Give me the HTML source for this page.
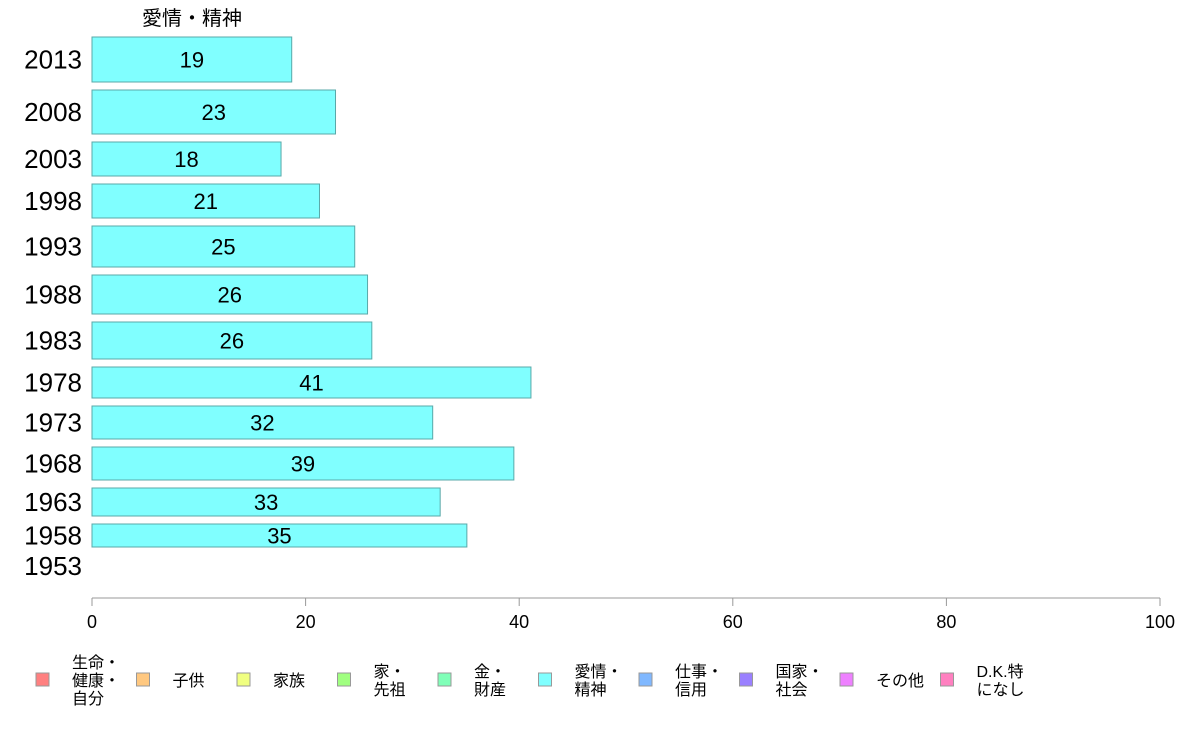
<!DOCTYPE html>
<html><head><meta charset="utf-8"><style>
body{margin:0;background:#fff;font-family:"Liberation Sans","Noto Sans CJK JP",sans-serif}
svg text{font-family:"Liberation Sans","Noto Sans CJK JP",sans-serif}
</style></head><body>
<svg id="c" width="1188" height="736" xmlns="http://www.w3.org/2000/svg">
<text x="192" y="25" font-size="20" text-anchor="middle" fill="#000">愛情・精神</text>
<g id="bars"></g><g id="axis"></g><g id="legend"></g>
</svg>
<script>
const years=["2013","2008","2003","1998","1993","1988","1983","1978","1973","1968","1963","1958","1953"];
const values=[18.7,22.8,17.7,21.3,24.6,25.8,26.2,41.1,31.9,39.5,32.6,35.1,null];
const labels=["19","23","18","21","25","26","26","41","32","39","33","35",""];
const weights=[45,44,34,34,41,39,37,31,33,33,28,23,22];
const ticks=[0,20,40,60,80,100];
const legendNames=[["生命・","健康・","自分"],["子供"],["家族"],["家・","先祖"],["金・","財産"],["愛情・","精神"],["仕事・","信用"],["国家・","社会"],["その他"],["D.K.特","になし"]];
const legendColors=["#ff8080","#ffc880","#f0ff80","#a0ff80","#80ffb8","#80ffff","#80b8ff","#9a80ff","#ee80ff","#ff80c0"];
const NS="http://www.w3.org/2000/svg";
const x0=92,x1=1160;
const xs=v=>x0+(x1-x0)*v/100;
function mk(t,a,p){const e=document.createElementNS(NS,t);for(const k in a)e.setAttribute(k,a[k]);p.appendChild(e);return e;}
const bars=document.getElementById('bars');
let y=37;const gap=8;
years.forEach((yr,i)=>{
  const h=weights[i];
  const t=mk('text',{x:82,y:y+h/2+9,'font-size':26,'text-anchor':'end',fill:'#000'},bars);t.textContent=yr;
  
  
  if(values[i]!=null){
    const r=mk('rect',{x:x0,y:y,width:xs(values[i])-x0,height:h,fill:'#80ffff',stroke:'#5aa8a8','stroke-width':1},bars);
    
    
    const l=mk('text',{x:(x0+xs(values[i]))/2,y:y+h/2+8,'font-size':22,'text-anchor':'middle',fill:'#000'},bars);l.textContent=labels[i];
    
    
  }
  y+=h+gap;
});
const ax=document.getElementById('axis');
const al=mk('line',{x1:x0,x2:x1,y1:598,y2:598,stroke:'#999','stroke-width':1},ax);


ticks.forEach(v=>{
  const tl=mk('line',{x1:xs(v),x2:xs(v),y1:598,y2:606,stroke:'#999'},ax);
  
  
  const tt=mk('text',{x:xs(v),y:628,'font-size':18,'text-anchor':'middle',fill:'#000'},ax);tt.textContent=v;
  
  
});
const lg=document.getElementById('legend');
legendNames.forEach((n,i)=>{
  const bx=36+i*100.5;
  const g=mk('g',{},lg);
  
  
  mk('rect',{x:bx,y:673,width:13,height:13,fill:legendColors[i],stroke:'#999'},g);
  const lh=18,top=680-(n.length-1)*lh/2;
  n.forEach((s,j)=>{const t=mk('text',{x:bx+36,y:top+j*lh+6,'font-size':16,fill:'#000'},g);t.textContent=s;});
});
</script>
</body></html>
